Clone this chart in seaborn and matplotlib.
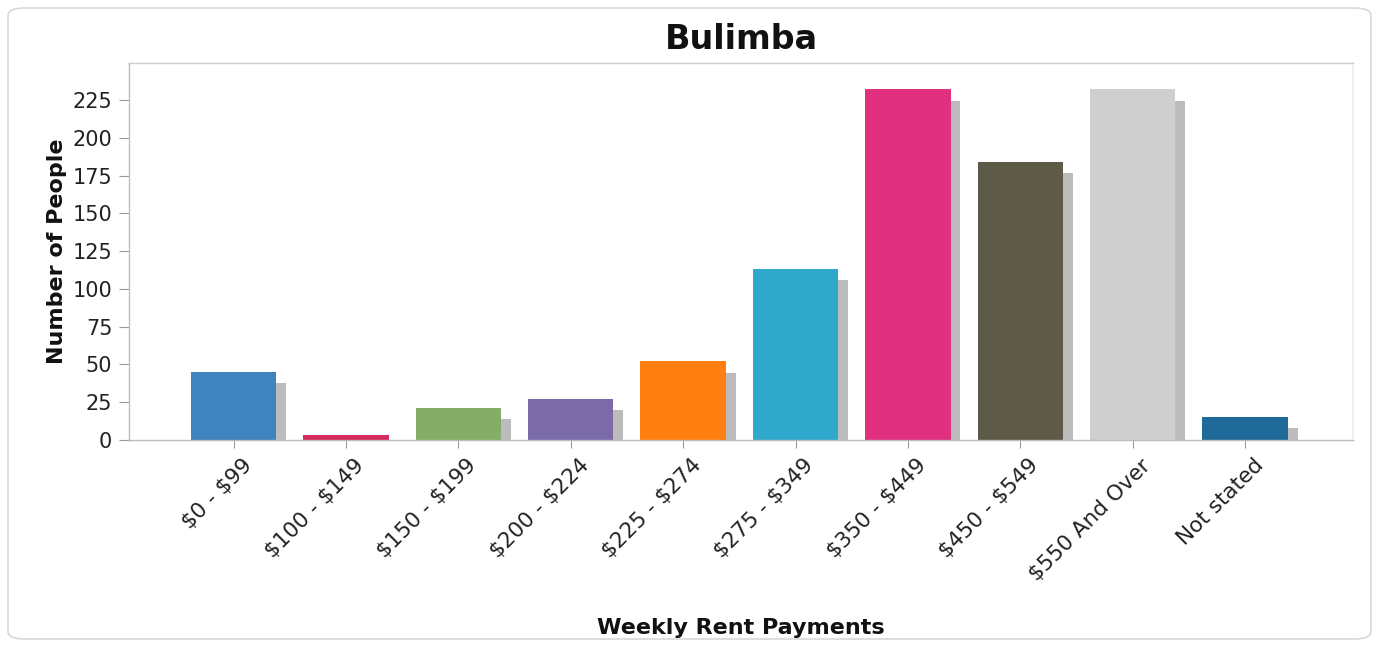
import matplotlib
matplotlib.use("Agg")
import matplotlib.pyplot as plt
import matplotlib.patheffects as pe
import matplotlib.transforms as mtransforms
from matplotlib.patches import FancyBboxPatch
import seaborn as sns
import pandas as pd

categories = ["$0 - $99", "$100 - $149", "$150 - $199", "$200 - $224", "$225 - $274",
              "$275 - $349", "$350 - $449", "$450 - $549", "$550 And Over", "Not stated"]
values = [45, 3, 21, 27, 52, 113, 232, 184, 232, 15]
colors = ["#3f83bf", "#d42a5c", "#86ad68", "#7a6aa8", "#ff7f10",
          "#2fa8cc", "#e0307f", "#5e5a48", "#cfcfcf", "#1f6a98"]
yticks = [0, 25, 50, 75, 100, 125, 150, 175, 200, 225]

sns.set_theme(style="white")
plt.rcParams['font.family'] = ['DejaVu Sans']
plt.rcParams['text.parse_math'] = False

W, H = 1381, 645
fig = plt.figure(figsize=(W / 100, H / 100), dpi=100)
fig.patch.set_facecolor("white")

# outer rounded frame
frame = FancyBboxPatch((8 / W, 6 / H), (W - 18) / W, (H - 14) / H,
                       boxstyle="round,pad=0,rounding_size=0.012",
                       transform=fig.transFigure, facecolor="none",
                       edgecolor="#d8d8d8", linewidth=1.2, zorder=-5)
fig.patches.append(frame)

left, right, top, bottom = 129, 1353, 63, 440
ax = fig.add_axes([left / W, 1 - bottom / H, (right - left) / W, (bottom - top) / H])
ax.set_facecolor("white")

df = pd.DataFrame({"cat": categories, "val": values})
sns.barplot(data=df, x="cat", y="val", hue="cat", palette=colors, legend=False,
            width=0.76, saturation=1, ax=ax, edgecolor="none")
for p in ax.patches:
    p.set_path_effects([pe.SimplePatchShadow(offset=(7, -8), shadow_rgbFace="#999999", alpha=0.65),
                        pe.Normal()])

ax.set_xlim(-0.93, 9.96)
ax.set_ylim(0, 249.5)
ax.set_yticks(yticks)
ax.set_yticklabels([str(v) for v in yticks], fontsize=15, color="#222222")
ax.tick_params(axis="y", which="both", left=True, length=7, width=0.8, color="#999999", pad=5)
ax.tick_params(axis="x", which="both", bottom=True, length=6, width=0.8, color="#999999", pad=5)
ax.set_xticks(range(len(categories)))
ax.set_xticklabels(categories, rotation=45, ha="right", rotation_mode="anchor",
                   fontsize=15.5, color="#222222")
shift = mtransforms.ScaledTranslation(8 / 100, 0, fig.dpi_scale_trans)
for lab in ax.get_xticklabels():
    lab.set_transform(lab.get_transform() + shift)

for s in ["left", "bottom", "top"]:
    ax.spines[s].set_visible(True)
    ax.spines[s].set_color("#bbbbbb")
    ax.spines[s].set_linewidth(1.0)
ax.spines["top"].set_color("#cccccc")
ax.spines["right"].set_visible(True)
ax.spines["right"].set_color("#eeeeee")

ax.set_title("Bulimba", fontsize=24, fontweight="bold", color="#111111", pad=10)
ax.set_ylabel("Number of People", fontsize=16, fontweight="bold", color="#111111", labelpad=4)
ax.set_xlabel("Weekly Rent Payments", fontsize=16, fontweight="bold", color="#111111", labelpad=24)

fig.savefig("out.png", dpi=100)
